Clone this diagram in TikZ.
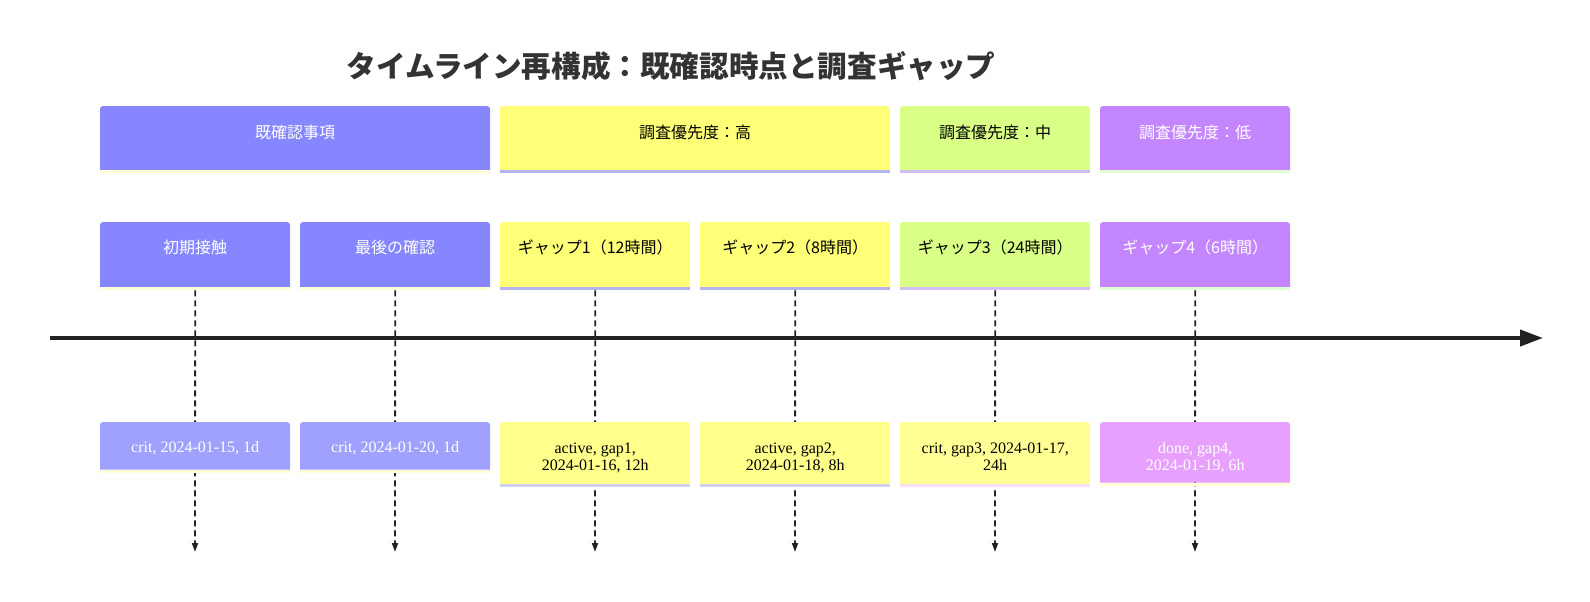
\documentclass[tikz,border=0pt]{standalone}
\usepackage{fontspec}
\setmainfont{Liberation Serif}
\newfontfamily\cjk{Noto Sans CJK JP}
\usetikzlibrary{arrows.meta}
\definecolor{known}{RGB}{134, 134, 255}
\definecolor{critbar}{RGB}{160, 160, 255}
\definecolor{high}{RGB}{255, 255, 120}
\definecolor{mid}{RGB}{217, 255, 134}
\definecolor{low}{RGB}{195, 134, 255}
\definecolor{activebar}{RGB}{255, 255, 140}
\definecolor{critgap}{RGB}{255, 255, 150}
\definecolor{donebar}{RGB}{232, 160, 255}
\definecolor{paleyellow}{RGB}{255, 255, 215}
\definecolor{lavender}{RGB}{180, 180, 238}
\definecolor{palelavender}{RGB}{210, 210, 245}
\definecolor{lilac}{RGB}{208, 190, 245}
\definecolor{palegreen}{RGB}{225, 255, 210}
\definecolor{palepink}{RGB}{248, 225, 248}
\definecolor{ink}{RGB}{34, 34, 34}
\definecolor{titlegray}{RGB}{51, 51, 51}

% bar with rounded top corners and a thin strip under it;
% the node text follows the call
\newcommand{\taskbar}[8]{%
  \fill[#6] (#2,#3+#5) [rounded corners=3pt] -- (#2,#3) -- (#2+#4,#3)
    [sharp corners] -- (#2+#4,#3+#5) -- cycle;
  \fill[#7] (#2,#3+#5) rectangle (#2+#4,#3+#5+3);
  \node[#8, minimum width=#4pt, minimum height=#5pt, anchor=north west] (#1) at (#2,#3)}

\begin{document}
\begin{tikzpicture}[x=1pt, y=-1pt,
    bartext/.style={rectangle, inner sep=0pt},
    toprow/.style={bartext, font=\cjk\fontsize{16}{17}\selectfont, text height=31.8pt, text depth=32.2pt},
    taskrow/.style={bartext, font=\cjk\fontsize{16}{17}\selectfont, text height=31.3pt, text depth=33.7pt},
    dateone/.style={bartext, font=\fontsize{16}{17}\selectfont, text height=30.5pt, text depth=17pt},
    datetwo/.style={bartext, align=center, font=\fontsize{16}{16.5}\selectfont, text height=47.8pt, text depth=14.2pt},
    gapline/.style={ink, line width=1.8pt, dash pattern=on 6pt off 4pt, -{Triangle[length=9pt, width=6pt]}},
    axis/.style={ink, line width=4pt, -{Triangle[length=23pt, width=16pt]}}]
  \useasboundingbox (0, 0) rectangle (1590, 602);

  \node[font=\cjk\bfseries\fontsize{29.6}{30}\selectfont, text=titlegray] (title) at (671, 66)
    {タイムライン再構成：既確認時点と調査ギャップ};

  % sections
  \taskbar{known}{100}{106}{390}{64}{known}{paleyellow}{toprow, text=white} {既確認事項};
  \taskbar{high}{500}{106}{390}{64}{high}{lavender}{toprow, text=black} {調査優先度：高};
  \taskbar{mid}{900}{106}{190}{64}{mid}{lilac}{toprow, text=black} {調査優先度：中};
  \taskbar{low}{1100}{106}{190}{64}{low}{palegreen}{toprow, text=white} {調査優先度：低};

  % tasks
  \taskbar{init}{100}{222}{190}{65}{known}{paleyellow}{taskrow, text=white} {初期接触};
  \taskbar{last}{300}{222}{190}{65}{known}{paleyellow}{taskrow, text=white} {最後の確認};
  \taskbar{gapA}{500}{222}{190}{65}{high}{lavender}{taskrow, text=black} {ギャップ1（12時間）};
  \taskbar{gapB}{700}{222}{190}{65}{high}{lavender}{taskrow, text=black} {ギャップ2（8時間）};
  \taskbar{gapC}{900}{222}{190}{65}{mid}{lilac}{taskrow, text=black} {ギャップ3（24時間）};
  \taskbar{gapD}{1100}{222}{190}{65}{low}{palegreen}{taskrow, text=white} {ギャップ4（6時間）};

  \coordinate (axisStart) at (50, 338);
  \coordinate (axisEnd) at (1543, 338);
  \draw[axis] (axisStart) -- (axisEnd);

  \foreach \n/\x in {init/195, last/395, gapA/595, gapB/795, gapC/995, gapD/1195} {
    \coordinate (\n End) at (\x, 552);
    \draw[gapline, shorten <=3pt] (\n.south) -- (\n End);
  }

  % dates
  \taskbar{dateA}{100}{422}{190}{47.5}{critbar}{paleyellow}{dateone, text=white} {crit, 2024-01-15, 1d};
  \taskbar{dateB}{300}{422}{190}{47.5}{critbar}{paleyellow}{dateone, text=white} {crit, 2024-01-20, 1d};
  \taskbar{dateC}{500}{422}{190}{62}{activebar}{palelavender}{datetwo, text=black} {active, gap1,\\2024-01-16, 12h};
  \taskbar{dateD}{700}{422}{190}{62}{activebar}{palelavender}{datetwo, text=black} {active, gap2,\\2024-01-18, 8h};
  \taskbar{dateE}{900}{422}{190}{62}{critgap}{palepink}{datetwo, text=black} {crit, gap3, 2024-01-17,\\24h};
  \taskbar{dateF}{1100}{422}{190}{60.5}{donebar}{paleyellow}{datetwo, text=white, text depth=12.7pt} {done, gap4,\\2024-01-19, 6h};
\end{tikzpicture}
\end{document}
